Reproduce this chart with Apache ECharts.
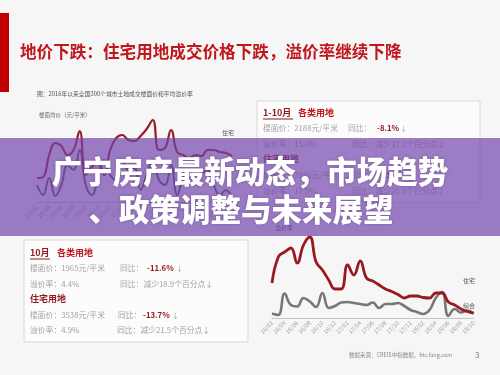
<!DOCTYPE html>
<html>
<head>
<meta charset="utf-8">
<script src="https://cdn.jsdelivr.net/npm/echarts@6/dist/echarts.min.js"></script>
<style>
html,body{margin:0;padding:0;background:#f6f6f6;}
#c{width:500px;height:375px;}
</style>
</head>
<body>
<div id="c"></div>
<script>
// ---- data ----
const months = ['16/02','16/03','16/04','16/05','16/06','16/07','16/08','16/09','16/10','16/11','16/12',
  '17/01','17/02','17/03','17/04','17/05','17/06','17/07','17/08','17/09','17/10','17/11','17/12',
  '18/01','18/02','18/03','18/04','18/05','18/06','18/07','18/08','18/09','18/10'];
// floor price chart (relative units)
const priceResidential = [24,25,47,59,56,47,52,71,27,35,39,27,52,64,67,62,61,66,73,82,52,54,72,50,47,44,47,46,52,52,50,49,46];
const priceComposite   = [17,7,24,6,17,37,32,52,17,7,24,42,27,22,42,32,34,12,27,42,22,17,37,7,24,32,20,27,32,17,7,12,4];
// premium rate chart (%)
const premiumResidential = [35,61,66,70,55,73,81,56,48,38,29,29,53,43,57,40,37,33,29,26.5,23.5,20,22,22,20.5,20,25,25,16,13,9,6.5,4.9];
const premiumComposite   = [4.5,3,24.5,13,11.5,20,16.5,11,25,10,12,15.5,16,15,14,13,15.5,10,14,14,15,12,8,6,4,8,20,26,2,9,5.5,7.5,4.4];

const FONT = '"Noto Sans CJK SC","Noto Sans",sans-serif';
function t(x, y, text, size, color, weight, align, z) {
  return {
    type: 'text', x: x, y: y, z: z || 5,
    style: {
      text: text, fill: color,
      font: (weight || 'normal') + ' ' + size + 'px ' + FONT,
      align: align || 'left', verticalAlign: 'middle',
      textAlign: align || 'left', textVerticalAlign: 'middle'
    }
  };
}
const gray = '#a3a3a3', dred = '#8e1b1f', red = '#bf171d';

const graphics = [
  {type:'rect', z:1, shape:{x:0,y:13,width:9,height:79}, style:{fill:'#c00000'}},
  t(20, 52, '地价下跌：住宅用地成交价格下跌，溢价率继续下降', 16.6, red, 'bold'),
  t(37, 94, '图：2016年以来全国300个城市土地成交楼面价和平均溢价率', 5.8, '#555'),
  t(39, 115, '楼面均价（元/平米）', 5.5, '#666'),
  t(222, 133, '住宅', 6, '#555'),
  t(275, 228, '溢价率', 6, '#555'),
  t(463, 281, '住宅', 6, '#555'),
  t(463, 306, '综合', 6, '#555'),
  t(349, 355, '数据来源：CREIS中指数据，fdc.fang.com', 5.5, '#888'),
  t(475, 355, '3', 8, '#777'),
  // top-right box
  {type:'rect', z:1, shape:{x:257,y:101,width:223,height:101}, style:{fill:'#fcfcfc', stroke:'#d8d8d8', lineWidth:1}},
  t(263, 113, '1-10月', 9, dred, 'bold'),
  {type:'line', z:5, shape:{x1:263,y1:119,x2:293,y2:119}, style:{stroke:dred, lineWidth:1}},
  t(298, 113, '各类用地', 9, red, 'bold'),
  t(263, 128, '楼面价：2188元/平米', 7.8, gray),
  t(348, 128, '同比：', 7.8, gray),
  t(377, 128, '-8.1%', 7.8, dred, 'bold'),
  t(400, 128, '↓', 7, '#9aa'),
  t(263, 144, '溢价率：15.0%', 7.8, gray),
  t(352, 144, '同比：减少17.1个百分点↓', 7.8, gray),
  t(263, 159, '住宅用地', 9, dred, 'bold'),
  t(263, 175, '楼面价：3930元/平米', 7.8, gray),
  t(348, 175, '同比：', 7.8, gray),
  t(377, 175, '-9.5%', 7.8, dred, 'bold'),
  t(263, 191, '溢价率：17.0%', 7.8, gray),
  t(352, 191, '同比：减少20.5个百分点↓', 7.8, gray),
  // bottom-left box
  {type:'rect', z:1, shape:{x:24,y:240,width:224,height:102}, style:{fill:'#fcfcfc', stroke:'#d8d8d8', lineWidth:1}},
  t(30, 253, '10月', 9, dred, 'bold'),
  {type:'line', z:5, shape:{x1:30,y1:259,x2:50,y2:259}, style:{stroke:dred, lineWidth:1}},
  t(57, 253, '各类用地', 9, red, 'bold'),
  t(30, 268, '楼面价：1965元/平米', 7.8, gray),
  t(120, 268, '同比：', 7.8, gray),
  t(147, 268, '-11.6%', 7.8, dred, 'bold'),
  t(176, 268, '↓', 7, '#9aa'),
  t(30, 284, '溢价率：4.4%', 7.8, gray),
  t(120, 284, '同比：减少18.9个百分点↓', 7.8, gray),
  t(30, 299, '住宅用地', 9, dred, 'bold'),
  t(30, 315, '楼面价：3538元/平米', 7.8, gray),
  t(118, 315, '同比：', 7.8, gray),
  t(143, 315, '-13.7%', 7.8, dred, 'bold'),
  t(172, 315, '↓', 7, '#9aa'),
  t(30, 330, '溢价率：4.9%', 7.8, gray),
  t(117, 330, '同比：减少21.5个百分点↓', 7.8, gray),
  // banner
  {type:'rect', z:100, shape:{x:0,y:138,width:500,height:98}, style:{fill:'rgba(116,70,174,0.7)'}},
  t(250, 171, '广宁房产最新动态，市场趋势', 30.5, '#fff', '900', 'center', 101),
  t(241, 209, '、政策调整与未来展望', 30.5, '#fff', '900', 'center', 101)
];
for (let k = 1; k <= 2; k++) {
  const s = graphics[graphics.length - k].style;
  s.textShadowColor = 'rgba(0,0,0,0.25)';
  s.textShadowBlur = 3;
}

function xAx(gi) {
  return {
    type: 'category', gridIndex: gi, data: months, boundaryGap: false,
    axisLine: {lineStyle: {color: '#c4c4c4', width: 1}},
    axisTick: {show: false},
    axisLabel: {interval: 1, rotate: 45, fontSize: 5.8, color: '#a0a0a0', margin: 4, fontFamily: FONT}
  };
}
function yAx(gi) {
  return {type: 'value', gridIndex: gi, min: 0, max: 100, show: false};
}
function line(gi, data, color, w) {
  return {
    type: 'line', xAxisIndex: gi, yAxisIndex: gi, data: data, smooth: 0.45,
    symbol: 'none', lineStyle: {color: color, width: w}, z: 3
  };
}

const chart = echarts.init(document.getElementById('c'), null, {renderer: 'canvas'});
chart.setOption({
  backgroundColor: '#f6f6f6',
  animation: false,
  grid: [
    {left: 37, top: 102, width: 195, height: 100},
    {left: 272, top: 218, width: 201.6, height: 100}
  ],
  xAxis: [xAx(0), xAx(1)],
  yAxis: [yAx(0), yAx(1)],
  series: [
    line(0, priceComposite, '#555555', 2),
    line(0, priceResidential, '#9a1b23', 2.2),
    line(1, premiumComposite, '#777777', 2.6),
    line(1, premiumResidential, '#981a20', 2.8)
  ],
  graphic: graphics
});
</script>
</body>
</html>
